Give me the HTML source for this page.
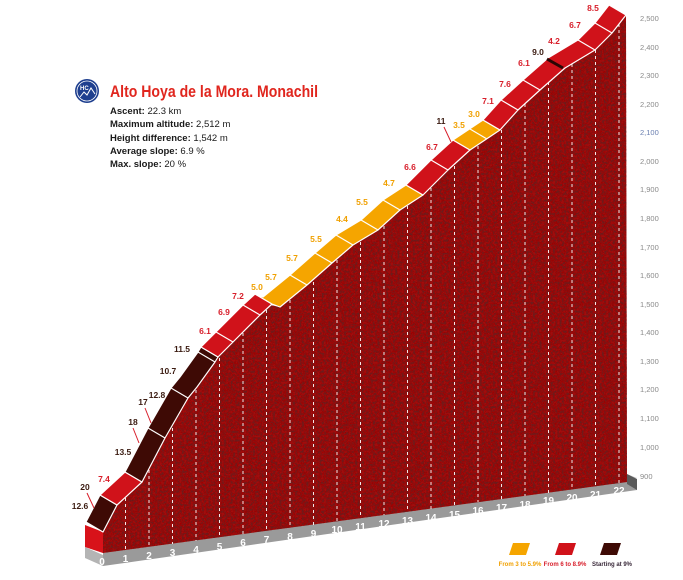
<!DOCTYPE html>
<html><head><meta charset="utf-8"><style>
html,body{margin:0;padding:0;background:#fff;}
svg{display:block;}
text{font-family:"Liberation Sans Narrow","Liberation Sans",sans-serif;}
</style></head><body>
<svg width="683" height="580" viewBox="0 0 683 580" xmlns="http://www.w3.org/2000/svg">
<defs>
<filter id="tex" x="0" y="0" width="100%" height="100%">
<feTurbulence type="fractalNoise" baseFrequency="0.45 0.45" numOctaves="3" seed="4" result="n"/>
<feColorMatrix in="n" type="matrix" values="0 0 0 0 0.15  0 0 0 0 0.01  0 0 0 0 0.01  -3.2 0 0 0 1.95" result="d"/>
<feComposite in="d" in2="SourceGraphic" operator="in" result="dd"/>
<feMerge><feMergeNode in="SourceGraphic"/><feMergeNode in="dd"/></feMerge>
</filter>
</defs>

<!-- gray base -->
<polygon points="85,547 103,555 103,566 85,558" fill="#b4b4b4"/>
<polygon points="85,547 627,474 637,478 103,553" fill="#c8c8c8"/>
<polygon points="103,553 637,479 637,490 103,566" fill="#9a9a9a"/>
<polygon points="627,474 637,479 637,490 627,484" fill="#5a5a5a"/>

<!-- textured mountain -->
<polygon filter="url(#tex)" fill="#a00e0e" points="103,532 117,505 142,482 165,438 188,398 197,387 215,362 218,357 233,342 260,315 270,305 280,307 307,285 332,263 353,245 378,230 400,210 423,195 448,170 470,150 500,130 518,110 540,90 565,68 595,50 612,33 626,15 627,482 103,553"/>
<!-- left side face -->
<polygon points="85,525 103,532 103,553 85,547" fill="#d8121a"/>

<!-- dashed km lines -->
<g stroke="#fff" stroke-width="1" stroke-dasharray="3,3" opacity="0.9">
<line x1="125.5" y1="492" x2="125.5" y2="550"/>
<line x1="149" y1="470" x2="149" y2="547"/>
<line x1="172.5" y1="428" x2="172.5" y2="544"/>
<line x1="196" y1="390" x2="196" y2="541"/>
<line x1="219.5" y1="358" x2="219.5" y2="537"/>
<line x1="243" y1="333" x2="243" y2="534"/>
<line x1="266.5" y1="310" x2="266.5" y2="531"/>
<line x1="290" y1="300" x2="290" y2="528"/>
<line x1="313.5" y1="282" x2="313.5" y2="525"/>
<line x1="337" y1="260" x2="337" y2="521"/>
<line x1="360.5" y1="242" x2="360.5" y2="518"/>
<line x1="384" y1="226" x2="384" y2="515"/>
<line x1="407.5" y1="206" x2="407.5" y2="512"/>
<line x1="431" y1="188" x2="431" y2="509"/>
<line x1="454.5" y1="166" x2="454.5" y2="506"/>
<line x1="478" y1="146" x2="478" y2="502"/>
<line x1="501.5" y1="130" x2="501.5" y2="499"/>
<line x1="525" y1="104" x2="525" y2="496"/>
<line x1="548.5" y1="82" x2="548.5" y2="493"/>
<line x1="572" y1="64" x2="572" y2="490"/>
<line x1="595.5" y1="50" x2="595.5" y2="486"/>
<line x1="619" y1="24" x2="619" y2="483"/>
</g>

<!-- ribbon segments (offset -17,-10) -->
<g stroke="#fff" stroke-width="1.2" stroke-linejoin="round">
<polygon fill="#3e0a05" points="103,532 117,505 100,495 86,522"/>
<polygon fill="#d0121a" points="117,505 142,482 125,472 100,495"/>
<polygon fill="#3e0a05" points="142,482 165,438 188,398 197,387 215,362 218,357 201,347 198,352 180,377 171,388 148,428 125,472"/>
<polygon fill="#d0121a" points="218,357 233,342 260,315 272,304 255,294 243,305 216,332 201,347"/>
<polygon fill="#f5a500" points="272,304 280,307 307,285 332,263 353,245 378,230 400,210 423,195 406,185 383,200 361,220 336,235 315,253 290,275 263,297 255,294"/>
<polygon fill="#d0121a" points="423,195 448,170 470,150 453,140 431,160 406,185"/>
<polygon fill="#f5a500" points="470,150 500,130 483,120 453,140"/>
<polygon fill="#d0121a" points="500,130 518,110 540,90 565,68 595,50 612,33 626,15 609,5 595,23 578,40 548,58 523,80 501,100 483,120"/>
</g>
<g stroke="#fff" stroke-width="1.2">
<line x1="165" y1="438" x2="148" y2="428"/>
<line x1="188" y1="398" x2="171" y2="388"/>
<line x1="215" y1="362" x2="198" y2="352"/>
<line x1="233" y1="342" x2="216" y2="332"/>
<line x1="260" y1="315" x2="243" y2="305"/>
<line x1="307" y1="285" x2="290" y2="275"/>
<line x1="332" y1="263" x2="315" y2="253"/>
<line x1="353" y1="245" x2="336" y2="235"/>
<line x1="378" y1="230" x2="361" y2="220"/>
<line x1="400" y1="210" x2="383" y2="200"/>
<line x1="448" y1="170" x2="431" y2="160"/>
<line x1="518" y1="110" x2="501" y2="100"/>
<line x1="540" y1="90" x2="523" y2="80"/>
<line x1="595" y1="50" x2="578" y2="40"/>
<line x1="612" y1="33" x2="595" y2="23"/>
<line x1="487" y1="139" x2="470" y2="129"/>
</g>
<line x1="563" y1="68" x2="547" y2="59" stroke="#2a0604" stroke-width="3"/>

<!-- km labels -->
<g fill="#fff" font-size="10" font-weight="bold" text-anchor="middle">
<text x="102" y="565">0</text><text x="125.5" y="562">1</text><text x="149" y="559">2</text><text x="172.5" y="556">3</text><text x="196" y="553">4</text><text x="219.5" y="550">5</text><text x="243" y="546">6</text><text x="266.5" y="543">7</text><text x="290" y="540">8</text><text x="313.5" y="537">9</text><text x="337" y="533">10</text><text x="360.5" y="530">11</text><text x="384" y="527">12</text><text x="407.5" y="524">13</text><text x="431" y="521">14</text><text x="454.5" y="518">15</text><text x="478" y="514">16</text><text x="501.5" y="511">17</text><text x="525" y="508">18</text><text x="548.5" y="504">19</text><text x="572" y="501">20</text><text x="595.5" y="498">21</text><text x="619" y="494">22</text>
</g>

<!-- altitude axis -->
<g fill="#8a8a8a" font-size="7.5">
<text x="640" y="21">2,500</text><text x="640" y="50">2,400</text><text x="640" y="78">2,300</text><text x="640" y="107">2,200</text><text x="640" y="135" fill="#6a7fb0">2,100</text><text x="640" y="164">2,000</text><text x="640" y="192">1,900</text><text x="640" y="221">1,800</text><text x="640" y="250">1,700</text><text x="640" y="278">1,600</text><text x="640" y="307">1,500</text><text x="640" y="335">1,400</text><text x="640" y="364">1,300</text><text x="640" y="392">1,200</text><text x="640" y="421">1,100</text><text x="640" y="450">1,000</text><text x="640" y="479">900</text>
</g>

<!-- slope labels -->
<g font-size="8.5" font-weight="bold" text-anchor="middle">
<g fill="#3a1a10">
<text x="80" y="509">12.6</text><text x="85" y="490">20</text><text x="123" y="455">13.5</text><text x="133" y="425">18</text><text x="143" y="405">17</text><text x="157" y="398">12.8</text><text x="168" y="374">10.7</text><text x="182" y="352">11.5</text><text x="441" y="124">11</text><text x="538" y="55">9.0</text>
</g>
<g fill="#d81e2a">
<text x="104" y="482">7.4</text><text x="205" y="334">6.1</text><text x="224" y="315">6.9</text><text x="238" y="299">7.2</text><text x="410" y="170">6.6</text><text x="432" y="150">6.7</text><text x="488" y="104">7.1</text><text x="505" y="87">7.6</text><text x="524" y="66">6.1</text><text x="554" y="44">4.2</text><text x="575" y="28">6.7</text><text x="593" y="11">8.5</text>
</g>
<g fill="#f0a000">
<text x="257" y="290">5.0</text><text x="271" y="280">5.7</text><text x="292" y="261">5.7</text><text x="316" y="242">5.5</text><text x="342" y="222">4.4</text><text x="362" y="205">5.5</text><text x="389" y="186">4.7</text><text x="459" y="128">3.5</text><text x="474" y="117">3.0</text>
</g>
</g>
<line x1="87" y1="493" x2="94" y2="508" stroke="#d81e2a" stroke-width="1"/>
<line x1="133" y1="428" x2="139" y2="443" stroke="#d81e2a" stroke-width="1"/>
<line x1="145" y1="408" x2="151" y2="423" stroke="#d81e2a" stroke-width="1"/>
<line x1="444" y1="127" x2="451" y2="142" stroke="#d81e2a" stroke-width="1"/>

<!-- title block -->
<circle cx="87" cy="91" r="12" fill="#1e3f8f"/>
<circle cx="87" cy="91" r="10" fill="none" stroke="#fff" stroke-width="0.8"/>
<text x="80" y="90" fill="#fff" font-size="6" font-weight="bold">HC</text>
<polyline points="80,97 84,92 87,95 91,88 95,94" fill="none" stroke="#fff" stroke-width="1"/>
<text x="110" y="97" fill="#e0261e" font-size="17" font-weight="bold" textLength="208" lengthAdjust="spacingAndGlyphs">Alto Hoya de la Mora. Monachil</text>
<g font-size="9.5" fill="#1a1a1a">
<text x="110" y="114"><tspan font-weight="bold">Ascent:</tspan> 22.3 km</text>
<text x="110" y="127"><tspan font-weight="bold">Maximum altitude:</tspan> 2,512 m</text>
<text x="110" y="141"><tspan font-weight="bold">Height difference:</tspan> 1,542 m</text>
<text x="110" y="154"><tspan font-weight="bold">Average slope:</tspan> 6.9 %</text>
<text x="110" y="167"><tspan font-weight="bold">Max. slope:</tspan> 20 %</text>
</g>

<!-- legend -->
<polygon points="513,543 530,543 526,555 509,555" fill="#f5a500"/>
<polygon points="559,543 576,543 572,555 555,555" fill="#d0121a"/>
<polygon points="604,543 621,543 617,555 600,555" fill="#3e0a05"/>
<g font-size="6" font-weight="bold" text-anchor="middle">
<text x="520" y="566" fill="#f0a000">From 3 to 5.9%</text>
<text x="565" y="566" fill="#d81e2a">From 6 to 8.9%</text>
<text x="612" y="566" fill="#3a2a3a">Starting at 9%</text>
</g>
</svg>
</body></html>
